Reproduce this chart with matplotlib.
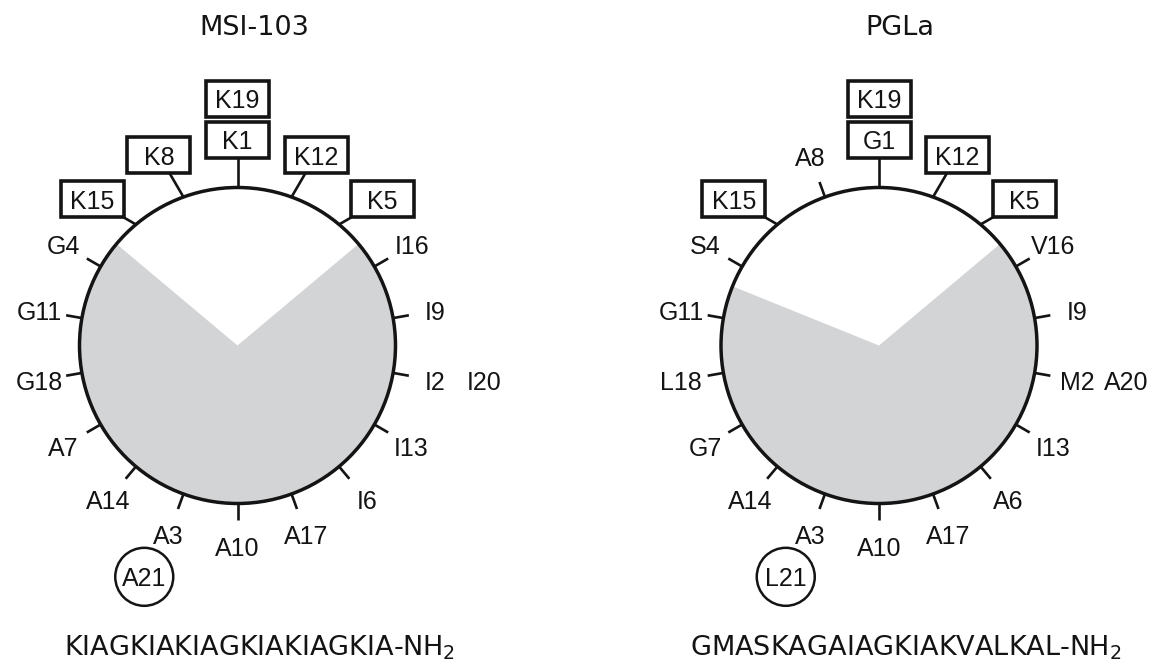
import numpy as np
import matplotlib
matplotlib.use("Agg")
import matplotlib.pyplot as plt
from matplotlib.patches import Circle, Wedge, Rectangle

# ---- peptide data -------------------------------------------------------
titles = ["MSI-103", "PGLa"]
sequences = ["KIAGKIAKIAGKIAKIAGKIA", "GMASKAGAIAGKIAKVALKAL"]
boxed_residues = [[1, 5, 8, 12, 15, 19], [1, 5, 12, 15, 19]]   # charged sites
circled_residues = [[21], [21]]                                 # C-terminus
polar_sector = [(40, 140), (40, 158)]   # unshaded face of each helix, degrees
degrees_per_residue = 100               # 3.6 residues per turn

# ---- layout ---------------------------------------------------------------
W, H = 1164, 664
wheel_x = [237.5, 879.0]
wheel_y = H - 345.5
title_x = [254, 900]
seq_x = [259, 906]
R = 158            # wheel radius (px)
TICK = 16          # tick length
LABEL_R = 201      # radius of residue labels
BOX_R = 206        # radius of boxed labels
FAN = 1.12         # spread boxed labels apart
BOX_W, BOX_H = 63, 36
TURN_STEP_BOX = 41
TURN_STEP_TXT = 49
CIRC_R = 29

GREY = "#d3d4d6"
INK = "#141414"
LAB_FONT = dict(family="Liberation Sans", size=18, color=INK)

fig = plt.figure(figsize=(W / 100, H / 100), dpi=100)
ax = fig.add_axes([0, 0, 1, 1])
ax.set_xlim(0, W)
ax.set_ylim(0, H)
ax.axis("off")


def unit(deg):
    a = np.deg2rad(deg)
    return np.array([np.cos(a), np.sin(a)])


def draw_box(xy, text):
    ax.add_patch(Rectangle((xy[0] - BOX_W / 2, xy[1] - BOX_H / 2), BOX_W, BOX_H,
                           facecolor="white", edgecolor=INK, lw=2.6, zorder=5))
    ax.text(xy[0], xy[1], text, ha="center", va="center_baseline", zorder=6,
            **LAB_FONT)


def draw_circled(xy, text):
    ax.add_patch(Circle(xy, CIRC_R, facecolor="white", edgecolor=INK,
                        lw=1.8, zorder=5))
    ax.text(xy[0], xy[1], text, ha="center", va="center_baseline", zorder=6,
            **LAB_FONT)


for k in range(2):
    c = np.array([wheel_x[k], wheel_y])
    seq = sequences[k]
    boxed = boxed_residues[k]
    circled = circled_residues[k]

    # shaded hydrophobic face and unshaded polar face
    ax.add_patch(Circle(c, R, facecolor=GREY, edgecolor="none", zorder=1))
    ax.add_patch(Wedge(c, R, polar_sector[k][0], polar_sector[k][1],
                       facecolor="white", edgecolor="none", zorder=2))
    ax.add_patch(Circle(c, R, facecolor="none", edgecolor=INK, lw=2.5, zorder=4))

    label_pos = {}
    for n in range(1, len(seq) + 1):
        theta = 90 - (n - 1) * degrees_per_residue
        theta = (theta + 180) % 360 - 180
        name = f"{seq[n - 1]}{n}"
        if n <= 18:
            if n in boxed:
                fan_theta = 90 + ((theta - 90 + 180) % 360 - 180) * FAN
                pos = c + BOX_R * unit(fan_theta)
                start = c + R * unit(theta)
                ax.plot([start[0], pos[0]], [start[1], pos[1]], color=INK,
                        lw=1.9, solid_capstyle="butt", zorder=3)
                draw_box(pos, name)
            else:
                p0 = c + R * unit(theta)
                p1 = c + (R + TICK) * unit(theta)
                ax.plot([p0[0], p1[0]], [p0[1], p1[1]], color=INK, lw=1.9,
                        solid_capstyle="butt", zorder=3)
                pos = c + LABEL_R * unit(theta)
                if n in circled:
                    draw_circled(pos, name)
                else:
                    ax.text(pos[0], pos[1], name, ha="center",
                            va="center_baseline", zorder=6, **LAB_FONT)
            label_pos[n] = pos
        else:
            # next turn of the helix: stack outward from the matching residue
            base = label_pos[n - 18]
            snap = np.round(theta / 30.0) * 30.0
            if n in boxed:
                pos = base + TURN_STEP_BOX * unit(snap)
                draw_box(pos, name)
            else:
                pos = base + TURN_STEP_TXT * unit(snap)
                if n in circled:
                    draw_circled(pos, name)
                else:
                    ax.text(pos[0], pos[1], name, ha="center",
                            va="center_baseline", zorder=6, **LAB_FONT)

    ax.text(title_x[k], H - 35, titles[k], ha="center", va="baseline",
            family="DejaVu Sans", fontsize=19.5, color=INK)
    ax.text(seq_x[k], H - 655, seq + "-NH$_2$", ha="center", va="baseline",
            family="DejaVu Sans", fontsize=19.5, color=INK)

fig.savefig("out.png", dpi=100, facecolor="white")
